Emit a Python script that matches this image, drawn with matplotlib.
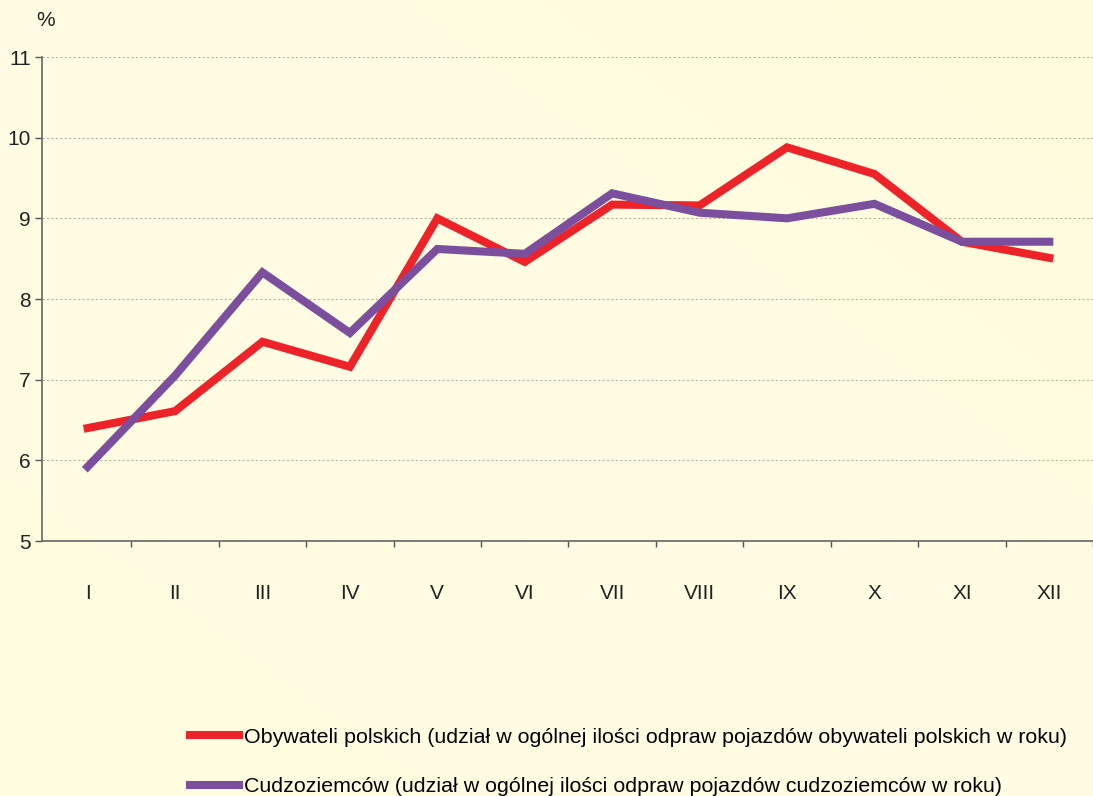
import matplotlib.pyplot as plt
import numpy as np

months = ["I", "II", "III", "IV", "V", "VI", "VII", "VIII", "IX", "X", "XI", "XII"]
polish = [6.40, 6.61, 7.47, 7.16, 9.00, 8.46, 9.17, 9.16, 9.88, 9.55, 8.71, 8.51]
foreign = [5.92, 7.05, 8.33, 7.58, 8.62, 8.56, 9.31, 9.07, 9.00, 9.18, 8.71, 8.71]
yticks = [5, 6, 7, 8, 9, 10, 11]

label_pl = "Obywateli polskich (udział w ogólnej ilości odpraw pojazdów obywateli polskich w roku)"
label_cu = "Cudzoziemców (udział w ogólnej ilości odpraw pojazdów cudzoziemców w roku)"

plt.rcParams['font.family'] = ['Liberation Sans', 'DejaVu Sans']

W, H = 1093, 796
fig = plt.figure(figsize=(W / 100, H / 100), dpi=100)

# tło z delikatnym gradientem
bg = fig.add_axes([0, 0, 1, 1], zorder=-10)
gx, gy = np.meshgrid(np.linspace(0, 1, 200), np.linspace(0, 1, 200))
grad = 0.5 * gx + 0.5 * gy
bg.imshow(grad, cmap=plt.matplotlib.colors.LinearSegmentedColormap.from_list(
    "bg", ["#fffcdf", "#fffde4", "#fffbdc"]), aspect='auto', extent=[0, 1, 0, 1], origin='lower')
bg.axis('off')

step = 88.2      # px na kategorię
x0 = 88          # px pierwszej kategorii
left = 42
ax = fig.add_axes([left / W, 1 - 541 / H, 1 - left / W, (541 - 57) / H])
ax.patch.set_alpha(0)

x = np.arange(len(months))
ax.plot(x, polish, color="#ee2229", lw=5.8, solid_joinstyle='miter', label=label_pl, zorder=3)
ax.plot(x, foreign, color="#7b4f9e", lw=5.8, solid_joinstyle='miter', label=label_cu, zorder=4)

ax.set_ylim(5, 11)
ax.set_xlim(-(x0 - left) / step, (W - x0) / step)
ax.set_yticks(yticks)
ax.set_yticklabels([str(v) for v in yticks], fontsize=15, color="#222222")
ax.tick_params(axis='y', length=5, width=1, color="#555555", pad=3)

ax.set_xticks(x + 0.5, minor=False)
ax.set_xticklabels([])
ax.set_xticks(x, minor=True)
ax.set_xticklabels(months, minor=True, fontsize=15, color="#222222")
ax.tick_params(axis='x', which='major', length=4, width=1, color="#555555", direction='out')
ax.tick_params(axis='x', which='minor', length=0, pad=31)

ax.grid(axis='y', linestyle=(0, (2, 2)), color="#b9b4a0", lw=0.8)
for s in ['top', 'right']:
    ax.spines[s].set_visible(False)
ax.spines['left'].set_color("#666666")
ax.spines['bottom'].set_color("#666666")
ax.spines['left'].set_linewidth(1.2)
ax.spines['bottom'].set_linewidth(1.2)

fig.text(46 / W, 1 - 21 / H, "%", fontsize=15, ha='center', va='center', color="#222222")

fig.legend(loc='lower left', bbox_to_anchor=(181 / W, -0.011), frameon=False,
           fontsize=15.4, handlelength=2.3, labelspacing=1.43, handletextpad=0.25,
           borderaxespad=0)

fig.savefig("out.png", dpi=100)
